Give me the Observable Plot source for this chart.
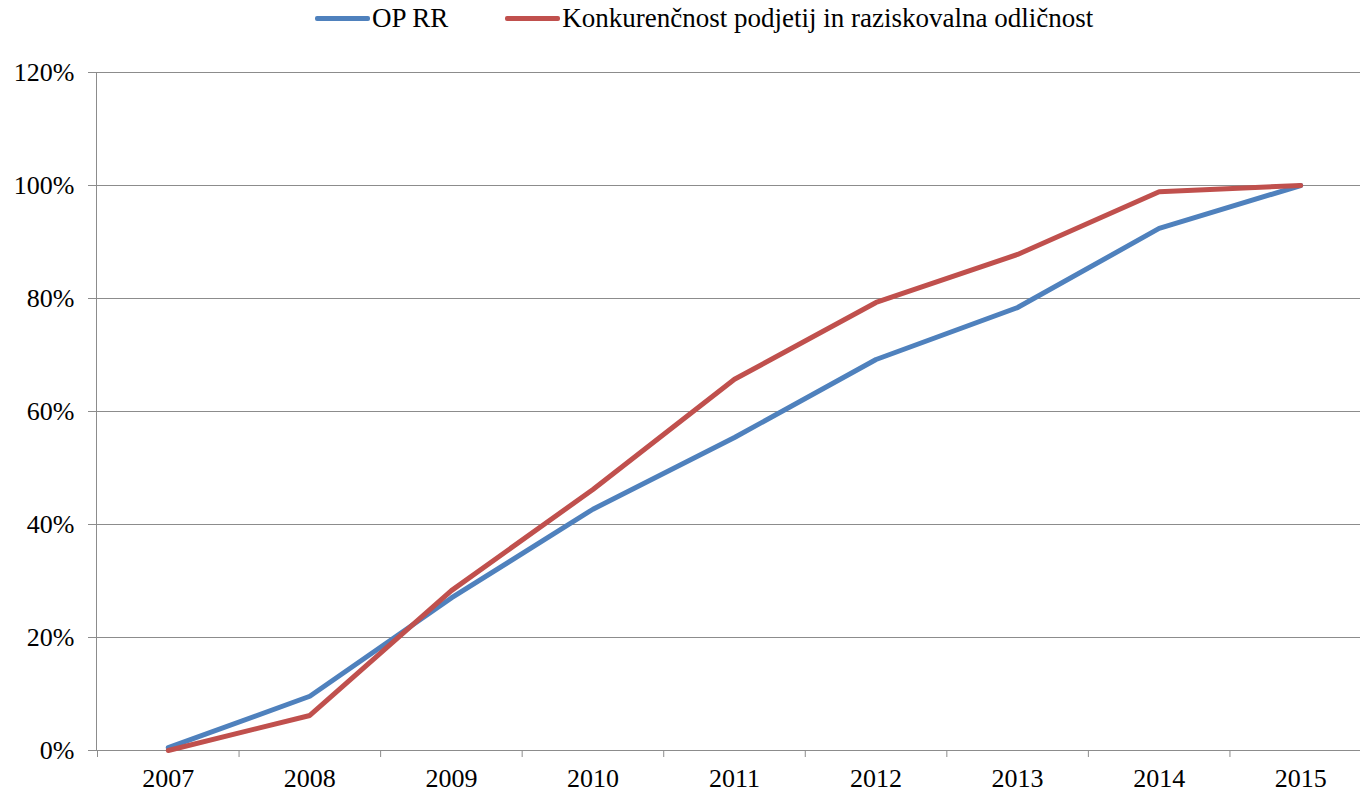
<!DOCTYPE html>
<html>
<head>
<meta charset="utf-8">
<script src="https://cdn.jsdelivr.net/npm/d3@7"></script>
<script src="https://cdn.jsdelivr.net/npm/@observablehq/plot@0.6"></script>
<style>
  html, body { margin: 0; padding: 0; background: #ffffff; overflow: hidden; }
  body { width: 1360px; height: 794px; font-family: "Times New Roman", "Liberation Serif", "DejaVu Serif", serif; }
  #legend { height: 37px; display: flex; align-items: center; padding-left: 315px; font-size: 27px; color: #000; }
  .item { display: flex; align-items: center; margin-right: 57px; }
  .sw { width: 55px; height: 5px; border-radius: 2px; margin-right: 2px; }
</style>
</head>
<body>
<div id="legend"></div>
<div id="chart"></div>
<script>
const years = ["2007", "2008", "2009", "2010", "2011", "2012", "2013", "2014", "2015"];
const seriesNames = ["OP RR", "Konkurenčnost podjetij in raziskovalna odličnost"];
const seriesColors = ["#4F81BD", "#C0504D"];
const opRR = [0.5, 9.6, 27.0, 42.7, 55.4, 69.2, 78.4, 92.4, 100];
const konkurencnost = [0, 6.2, 28.3, 46.2, 65.7, 79.3, 87.8, 98.9, 100];
const yTicks = [0, 20, 40, 60, 80, 100, 120];

const data = [];
[opRR, konkurencnost].forEach((vals, i) => {
  vals.forEach((v, j) => data.push({series: seriesNames[i], year: years[j], value: v}));
});

// legend
const legend = document.getElementById("legend");
seriesNames.forEach((name, i) => {
  const item = document.createElement("div");
  item.className = "item";
  const sw = document.createElement("div");
  sw.className = "sw";
  sw.style.background = seriesColors[i];
  const t = document.createElement("span");
  t.textContent = name;
  item.appendChild(sw);
  item.appendChild(t);
  legend.appendChild(item);
});

const xRange = [97, 1371];
const bw = (xRange[1] - xRange[0]) / years.length;
const serif = "'Times New Roman', 'Liberation Serif', 'DejaVu Serif', serif";

const chart = Plot.plot({
  width: 1360,
  height: 757,
  marginTop: 35,
  marginBottom: 44,
  marginLeft: 96,
  marginRight: 0,
  style: {fontFamily: serif, fontSize: "26px", color: "#000", background: "transparent"},
  x: {type: "band", domain: years, range: xRange, padding: 0, round: false},
  y: {domain: [0, 120]},
  color: {domain: seriesNames, range: seriesColors},
  marks: [
    Plot.ruleY(yTicks, {stroke: "#8c8c8c", strokeWidth: 1, strokeOpacity: 1}),
    Plot.frame({anchor: "left", stroke: "#8c8c8c", strokeOpacity: 1}),
    Plot.axisY(yTicks, {tickSize: 8, tickPadding: 14, tickFormat: d => d + "%", stroke: "#8c8c8c", strokeOpacity: 1, fill: "#000", fontSize: 26, fontFamily: serif, label: null}),
    Plot.axisX({tickSize: 7, tickFormat: () => "", dx: -bw / 2, stroke: "#8c8c8c", strokeOpacity: 1, label: null}),
    Plot.axisX({tickSize: 0, tickPadding: 18, fill: "#000", fontSize: 26, fontFamily: serif, label: null}),
    Plot.lineY(data, {x: "year", y: "value", stroke: "series", strokeWidth: 5, strokeLinejoin: "round", strokeLinecap: "round"})
  ]
});
document.getElementById("chart").appendChild(chart);
</script>
</body>
</html>
